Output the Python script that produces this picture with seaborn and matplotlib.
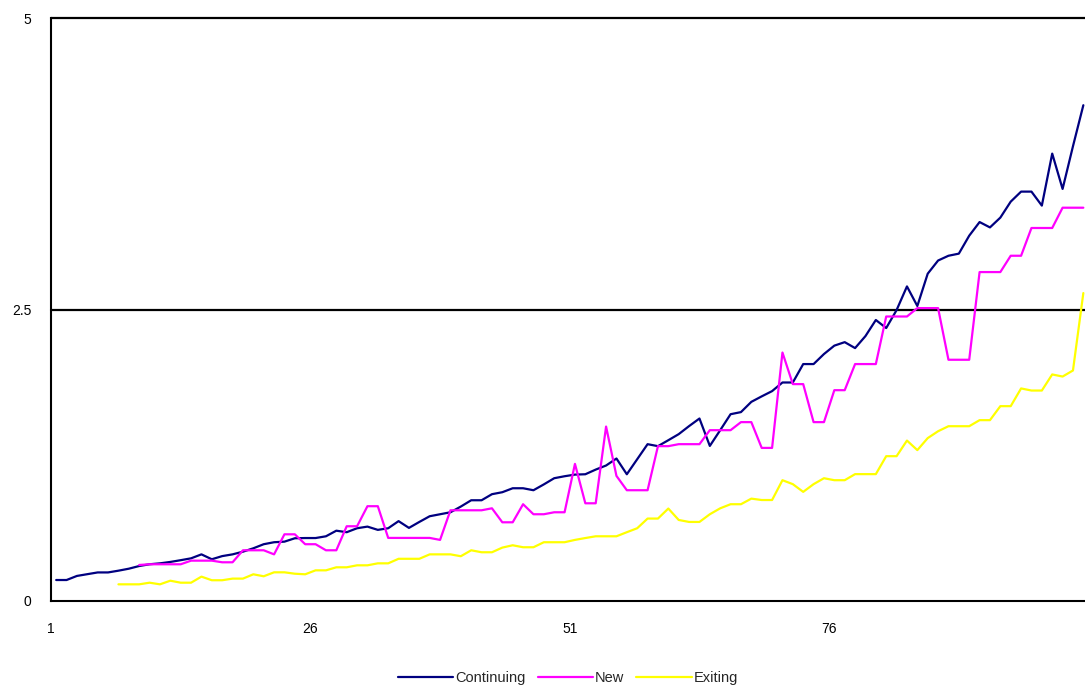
import numpy as np
import pandas as pd
import seaborn as sns
import matplotlib
matplotlib.use("Agg")
import matplotlib.pyplot as plt

nan = np.nan

# values, index 1..100
continuing = [
    0.18, 0.18, 0.215, 0.23, 0.245, 0.245, 0.26, 0.277, 0.30, 0.315,
    0.323, 0.335, 0.35, 0.366, 0.40, 0.358, 0.385, 0.40, 0.423, 0.452,
    0.487, 0.504, 0.509, 0.538, 0.54, 0.54, 0.555, 0.603, 0.59, 0.624,
    0.638, 0.61, 0.624, 0.685, 0.627, 0.678, 0.727, 0.744, 0.761, 0.81,
    0.864, 0.864, 0.916, 0.933, 0.967, 0.967, 0.95, 1.00, 1.053, 1.07,
    1.084, 1.087, 1.127, 1.162, 1.222, 1.087, 1.216, 1.345, 1.328, 1.379,
    1.431, 1.50, 1.565, 1.33, 1.465, 1.602, 1.62, 1.708, 1.755, 1.80,
    1.874, 1.874, 2.032, 2.032, 2.118, 2.19, 2.22, 2.169, 2.272, 2.41,
    2.341, 2.495, 2.698, 2.53, 2.807, 2.92, 2.961, 2.979, 3.133, 3.25,
    3.204, 3.288, 3.425, 3.511, 3.511, 3.391, 3.837, 3.534, 3.90, 4.252,
]
new = [
    nan, nan, nan, nan, nan, nan, nan, nan, 0.309, 0.315,
    0.315, 0.315, 0.315, 0.346, 0.346, 0.346, 0.332, 0.332, 0.435, 0.435,
    0.435, 0.40, 0.572, 0.572, 0.487, 0.487, 0.435, 0.435, 0.641, 0.641,
    0.813, 0.813, 0.541, 0.541, 0.541, 0.541, 0.541, 0.524, 0.778, 0.778,
    0.778, 0.778, 0.795, 0.675, 0.675, 0.83, 0.744, 0.744, 0.761, 0.761,
    1.176, 0.838, 0.838, 1.496, 1.073, 0.95, 0.95, 0.95, 1.328, 1.328,
    1.345, 1.345, 1.345, 1.465, 1.465, 1.465, 1.534, 1.534, 1.313, 1.313,
    2.131, 1.86, 1.86, 1.534, 1.534, 1.808, 1.808, 2.032, 2.032, 2.032,
    2.44, 2.44, 2.44, 2.512, 2.512, 2.512, 2.069, 2.069, 2.069, 2.821,
    2.821, 2.821, 2.961, 2.961, 3.199, 3.199, 3.199, 3.373, 3.373, 3.373,
]
exiting = [
    nan, nan, nan, nan, nan, nan, 0.143, 0.143, 0.143, 0.157,
    0.143, 0.174, 0.157, 0.157, 0.209, 0.178, 0.178, 0.192, 0.192, 0.229,
    0.212, 0.246, 0.246, 0.234, 0.229, 0.263, 0.263, 0.289, 0.289, 0.306,
    0.306, 0.323, 0.323, 0.362, 0.362, 0.362, 0.40, 0.40, 0.40, 0.384,
    0.435, 0.418, 0.418, 0.458, 0.478, 0.461, 0.461, 0.504, 0.504, 0.504,
    0.524, 0.54, 0.555, 0.555, 0.555, 0.59, 0.624, 0.707, 0.707, 0.793,
    0.695, 0.678, 0.678, 0.744, 0.795, 0.83, 0.83, 0.878, 0.866, 0.866,
    1.036, 1.002, 0.936, 1.002, 1.053, 1.036, 1.036, 1.088, 1.088, 1.088,
    1.242, 1.242, 1.376, 1.294, 1.397, 1.456, 1.499, 1.499, 1.499, 1.551,
    1.551, 1.671, 1.671, 1.823, 1.805, 1.805, 1.943, 1.925, 1.977, 2.641,
]
series_names = ["Continuing", "New", "Exiting"]
colors = ["#000080", "#FF00FF", "#FFFF00"]
xtick_labels = ["1", "26", "51", "76"]
ytick_labels = ["0", "2.5", "5"]

idx = np.arange(1, len(continuing) + 1)
df = pd.concat([
    pd.DataFrame({"idx": idx, "value": vals, "series": name})
    for name, vals in zip(series_names, [continuing, new, exiting])
]).dropna()

sns.set_style("white")
plt.rcParams["font.family"] = ["Liberation Sans", "DejaVu Sans"]

fig = plt.figure(figsize=(10.85, 6.92), dpi=100)
ax = fig.add_axes([51 / 1085, 1 - 601 / 692, 1 - 51 / 1085, (601 - 18) / 692])

sns.lineplot(data=df, x="idx", y="value", hue="series", hue_order=series_names,
             palette=colors, estimator=None, linewidth=1.6, ax=ax, legend=False)

ax.set_xlim(0.5, 100.16)
ax.set_ylim(0, 5)
ax.set_xticks([0.5, 25.5, 50.5, 75.5])
ax.set_xticklabels(xtick_labels)
ax.set_yticks([0, 2.5, 5])
ax.set_yticklabels(ytick_labels)
ax.set_xlabel("")
ax.set_ylabel("")
ax.tick_params(axis="both", direction="out", length=6, width=1.5, colors="black",
               labelsize=10, labelcolor="black")
ax.tick_params(axis="x", pad=10, length=5)
ax.tick_params(axis="y", pad=8)

for y in [2.5, 5]:
    ax.axhline(y, color="black", lw=1.6, zorder=0.5, clip_on=False)

for side in ["top", "right"]:
    ax.spines[side].set_visible(False)
for side in ["left", "bottom"]:
    ax.spines[side].set_color("black")
    ax.spines[side].set_linewidth(1.5)

handles = [plt.Line2D([], [], color=c, lw=1.6) for c in colors]
fig.legend(handles, series_names, loc="center", bbox_to_anchor=(568 / 1085, 1 - 678 / 692),
           ncol=3, frameon=False, fontsize=10.5, handlelength=3.8, handletextpad=0.15,
           columnspacing=0.8)

fig.savefig("out.png", dpi=100)
